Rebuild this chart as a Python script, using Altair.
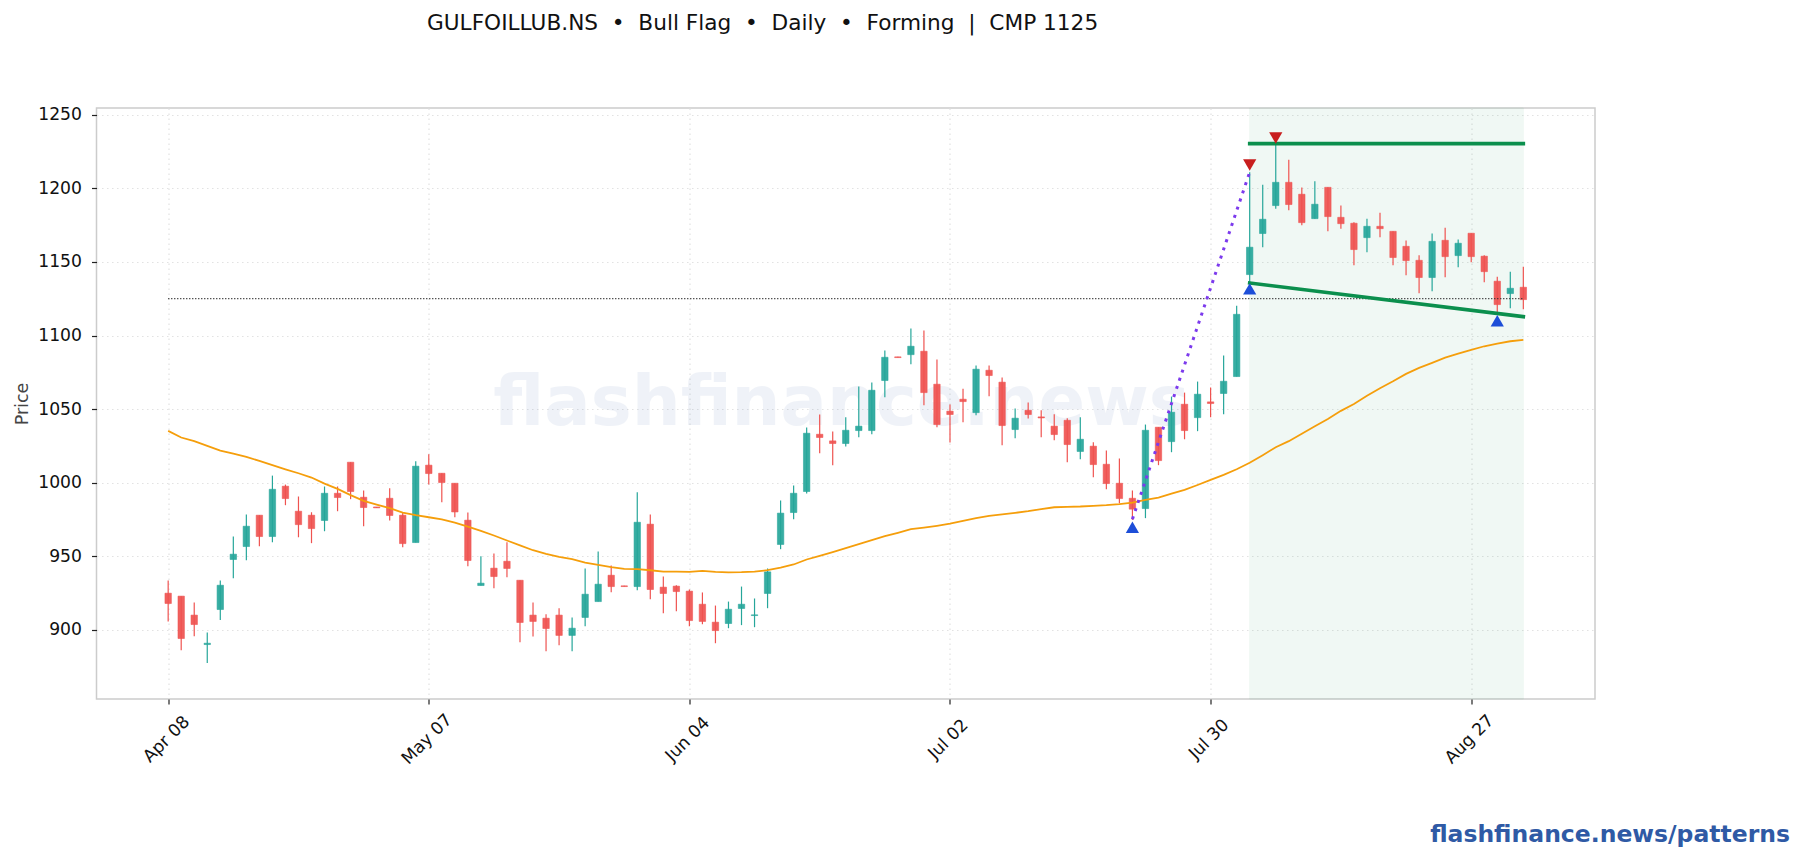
import json

import altair as alt
import pandas as pd

NB = "\u00a0"
TITLE = f"GULFOILLUB.NS{NB}{NB}•{NB}{NB}Bull Flag{NB}{NB}•{NB}{NB}Daily{NB}{NB}•{NB}{NB}Forming{NB}{NB}|{NB}{NB}CMP 1125"
CMP = 1125
FONT = "DejaVu Sans"

UP = "#26a69a"
DOWN = "#ef5350"
GREEN = "#0b8f4d"
ORANGE = "#f59e0b"
PURPLE = "#7c3aed"
BLUE = "#1d4ed8"
RED = "#c81e1e"

tick_positions = [0, 20, 40, 60, 80, 100]
tick_labels = ["Apr 08", "May 07", "Jun 04", "Jul 02", "Jul 30", "Aug 27"]
price_ticks = [900, 950, 1000, 1050, 1100, 1150, 1200, 1250]

opens = [
    924.9, 922.9, 910.0, 890.0, 913.8, 947.8, 956.6, 977.9, 963.4, 997.6,
    980.6, 977.9, 974.3, 992.8, 1013.9, 990.1, 983.5, 989.4, 977.9, 959.3,
    1011.9, 1006.4, 999.6, 974.5, 930.1, 941.9, 946.6, 933.7, 910.0, 907.9,
    910.0, 896.2, 908.4, 919.2, 937.1, 929.9, 929.4, 971.8, 929.0, 929.7,
    926.3, 917.4, 905.2, 904.3, 914.5, 909.7, 924.7, 958.0, 979.7, 994.0,
    1032.9, 1028.4, 1026.6, 1035.4, 1035.4, 1069.4, 1085.5, 1087.0, 1089.3, 1066.9,
    1048.6, 1056.7, 1047.6, 1076.4, 1068.3, 1036.1, 1049.2, 1044.7, 1038.4, 1042.4,
    1021.2, 1024.8, 1012.5, 999.6, 989.4, 982.4, 1037.7, 1027.9, 1053.3, 1044.2,
    1054.9, 1060.6, 1072.1, 1141.4, 1169.3, 1188.3, 1204.1, 1196.0, 1179.4, 1200.7,
    1180.3, 1176.3, 1166.5, 1174.2, 1170.8, 1160.6, 1151.1, 1139.4, 1164.7, 1154.3,
    1169.5, 1153.9, 1136.9, 1128.5, 1132.8,
]
highs = [
    933.5, 922.9, 918.6, 898.2, 933.5, 963.4, 978.3, 977.9, 1004.8, 998.7,
    990.6, 979.9, 997.4, 997.4, 1013.9, 994.6, 983.5, 996.2, 979.9, 1014.6,
    1019.3, 1006.4, 999.6, 979.7, 950.0, 951.8, 959.5, 933.7, 918.6, 910.6,
    914.7, 908.4, 941.7, 953.2, 943.7, 929.9, 993.5, 978.4, 936.2, 930.3,
    927.4, 925.4, 916.5, 919.2, 929.4, 921.3, 941.7, 987.9, 998.1, 1037.5,
    1046.3, 1034.7, 1044.5, 1065.3, 1068.0, 1089.8, 1085.5, 1104.7, 1103.4, 1083.7,
    1053.1, 1063.9, 1079.6, 1079.6, 1071.4, 1050.4, 1054.4, 1049.2, 1046.5, 1043.8,
    1044.5, 1027.5, 1021.8, 1016.4, 994.7, 1039.5, 1037.7, 1058.5, 1061.2, 1068.7,
    1064.6, 1086.4, 1120.3, 1211.0, 1202.5, 1230.6, 1219.5, 1200.5, 1204.8, 1200.7,
    1188.3, 1176.9, 1179.4, 1183.5, 1170.8, 1164.5, 1154.5, 1169.3, 1173.3, 1165.2,
    1169.5, 1154.5, 1140.0, 1143.4, 1146.8,
]
lows = [
    905.7, 886.2, 895.7, 877.4, 906.6, 935.1, 947.3, 956.8, 959.5, 984.7,
    962.9, 958.9, 967.0, 980.6, 988.8, 970.4, 982.9, 974.3, 956.2, 959.3,
    998.7, 986.7, 976.5, 943.2, 930.1, 928.3, 935.8, 891.6, 895.5, 885.5,
    889.6, 885.5, 902.5, 919.2, 925.6, 929.4, 926.9, 920.8, 911.3, 912.7,
    902.5, 903.8, 890.9, 901.1, 903.2, 901.8, 914.7, 954.8, 975.2, 992.6,
    1020.0, 1011.9, 1024.5, 1030.9, 1032.9, 1058.1, 1085.0, 1080.5, 1052.6, 1037.7,
    1027.3, 1041.1, 1045.8, 1058.7, 1025.5, 1030.2, 1043.6, 1030.9, 1028.9, 1013.9,
    1015.9, 1003.7, 995.6, 986.1, 974.7, 975.9, 1011.9, 1020.7, 1029.5, 1035.0,
    1044.5, 1046.5, 1072.1, 1136.0, 1160.0, 1186.2, 1185.1, 1174.9, 1179.4, 1170.8,
    1172.6, 1147.7, 1156.6, 1166.8, 1147.7, 1140.9, 1128.7, 1130.1, 1139.6, 1146.4,
    1149.8, 1136.2, 1115.1, 1118.5, 1117.8,
]
closes = [
    917.9, 894.1, 903.6, 890.9, 930.3, 951.4, 970.4, 963.4, 995.5, 989.2,
    971.5, 968.8, 992.8, 989.9, 994.0, 983.1, 982.9, 977.7, 958.6, 1011.2,
    1006.2, 1000.1, 980.1, 947.1, 931.7, 936.2, 941.7, 905.0, 905.7, 900.9,
    896.2, 901.1, 924.2, 931.0, 929.4, 929.4, 973.1, 927.4, 924.7, 926.0,
    906.3, 905.7, 899.5, 914.0, 917.4, 910.2, 939.4, 979.3, 992.8, 1033.6,
    1030.7, 1026.6, 1035.6, 1038.4, 1062.8, 1085.2, 1085.0, 1092.7, 1061.2, 1039.5,
    1046.3, 1055.1, 1077.1, 1072.8, 1038.8, 1043.8, 1046.3, 1044.0, 1032.7, 1025.9,
    1029.5, 1012.3, 999.4, 989.2, 982.0, 1035.6, 1015.0, 1047.9, 1035.4, 1060.1,
    1053.8, 1068.9, 1114.4, 1160.0, 1179.0, 1204.1, 1189.0, 1176.7, 1189.2, 1180.8,
    1176.0, 1158.4, 1174.2, 1172.6, 1153.0, 1150.9, 1139.4, 1164.0, 1153.6, 1162.7,
    1153.6, 1143.4, 1121.0, 1132.1, 1124.4,
]
moving_avg = [
    1035.2, 1030.7, 1028.2, 1025.0, 1021.8, 1019.8, 1017.5, 1014.8, 1011.9, 1009.1,
    1006.4, 1003.5, 999.4, 995.8, 991.5, 987.6, 985.1, 982.7, 979.7, 977.9,
    976.5, 975.0, 972.9, 970.2, 967.3, 964.1, 960.7, 957.4, 954.1, 951.6,
    949.6, 948.0, 945.7, 944.2, 942.6, 941.4, 941.2, 940.5, 939.6, 939.6,
    939.4, 940.1, 939.4, 939.0, 939.2, 939.6, 940.5, 942.3, 944.4, 947.8,
    950.3, 952.8, 955.5, 958.2, 960.9, 963.6, 965.9, 968.4, 969.5, 970.7,
    972.1, 974.0, 975.9, 977.4, 978.4, 979.5, 980.6, 982.0, 983.3, 983.6,
    983.8, 984.2, 984.7, 985.4, 986.5, 988.3, 989.9, 992.6, 995.1, 998.4,
    1001.9, 1005.3, 1009.1, 1013.5, 1018.7, 1024.1, 1028.2, 1033.2, 1038.4, 1043.3,
    1048.8, 1053.5, 1059.0, 1064.2, 1068.9, 1073.9, 1078.0, 1081.4, 1085.0, 1087.7,
    1090.2, 1092.7, 1094.5, 1096.1, 1097.0,
]

zone_start, zone_end = 83, 104
upper_line_x, upper_line_y = [83, 104], [1230.4, 1230.4]
lower_line_x, lower_line_y = [83, 104], [1135.7, 1112.8]
pole_x, pole_y = [74, 83], [975.2, 1211.0]
cmp_x, cmp_y = [0, 104], [CMP, CMP]
swing_low_x, swing_low_y = [74, 83, 102], [969.7, 1131.7, 1110.1]
swing_high_x, swing_high_y = [83, 85], [1215.9, 1234.2]

x_scale = alt.Scale(domain=[-5.5, 109.5], nice=False, zero=False, padding=0)
y_scale = alt.Scale(domain=[853, 1254.6], nice=False, zero=False)


def line_layer(xs, ys, **mark_kwargs) -> alt.Chart:
    df = pd.DataFrame({"x": xs, "y": ys})
    return (
        alt.Chart(df)
        .mark_line(**mark_kwargs)
        .encode(
            x=alt.X("x:Q", scale=x_scale),
            y=alt.Y("y:Q", scale=y_scale),
        )
    )


def marker_layer(xs, ys, shape, color) -> alt.Chart:
    df = pd.DataFrame({"x": xs, "y": ys})
    return (
        alt.Chart(df)
        .mark_point(shape=shape, filled=True, size=175, color=color, opacity=1)
        .encode(
            x=alt.X("x:Q", scale=x_scale),
            y=alt.Y("y:Q", scale=y_scale),
        )
    )


def create_chart() -> alt.LayerChart:
    df = pd.DataFrame(
        {
            "i": range(len(closes)),
            "open": opens,
            "high": highs,
            "low": lows,
            "close": closes,
        }
    )
    df["dir"] = ["up" if c >= o else "down" for o, c in zip(opens, closes)]
    color = alt.Color(
        "dir:N",
        scale=alt.Scale(domain=["up", "down"], range=[UP, DOWN]),
        legend=None,
    )

    label_lookup = json.dumps(dict(zip(map(str, tick_positions), tick_labels)))
    x_axis = alt.Axis(
        values=tick_positions,
        labelExpr=f"{label_lookup}[datum.value]",
        labelAngle=-45,
        labelAlign="center",
        labelBaseline="middle",
        labelPadding=35,
        labelOffset=-2,
        labelOverlap=False,
        title=None,
    )
    y_axis = alt.Axis(
        values=price_ticks,
        format="d",
        title="Price",
        titlePadding=6,
        labelPadding=10,
    )

    zone = (
        alt.Chart(pd.DataFrame({"start": [zone_start], "end": [zone_end]}))
        .mark_rect(color=GREEN, opacity=0.055, stroke=GREEN, strokeWidth=1)
        .encode(
            x=alt.X("start:Q", scale=x_scale, axis=x_axis),
            x2="end:Q",
        )
    )

    watermark = (
        alt.Chart(pd.DataFrame({"label": ["flashfinance.news"]}))
        .mark_text(
            font=FONT,
            fontWeight="bold",
            fontSize=68.8,
            color="#2f5aa5",
            opacity=0.07,
            align="center",
            baseline="middle",
        )
        .encode(x=alt.value(745), y=alt.value(296), text="label:N")
    )

    wicks = (
        alt.Chart(df)
        .mark_rule(strokeWidth=1.2)
        .encode(
            x=alt.X("i:Q", scale=x_scale),
            y=alt.Y("low:Q", scale=y_scale, axis=y_axis),
            y2="high:Q",
            color=color,
        )
    )
    bodies = (
        alt.Chart(df)
        .mark_bar(size=6.4, fillOpacity=0.92, strokeWidth=0.7, strokeOpacity=0.8)
        .encode(
            x=alt.X("i:Q", scale=x_scale),
            y=alt.Y("open:Q", scale=y_scale),
            y2="close:Q",
            color=color,
            stroke=alt.Stroke(
                "dir:N",
                scale=alt.Scale(domain=["up", "down"], range=[UP, DOWN]),
                legend=None,
            ),
        )
    )

    footer = (
        alt.Chart(pd.DataFrame({"label": ["flashfinance.news/patterns"]}))
        .mark_text(
            font=FONT,
            fontWeight="bold",
            fontSize=23.5,
            color="#2f5aa5",
            align="right",
            baseline="middle",
        )
        .encode(x=alt.value(1693.5), y=alt.value(727), text="label:N")
    )

    chart = alt.layer(
        zone,
        watermark,
        wicks,
        bodies,
        line_layer(list(range(len(moving_avg))), moving_avg, color=ORANGE, strokeWidth=1.8),
        line_layer(cmp_x, cmp_y, color="#333333", strokeWidth=1.2, strokeDash=[1.2, 1.8]),
        line_layer(pole_x, pole_y, color=PURPLE, strokeWidth=3, strokeDash=[3, 5.6]),
        line_layer(upper_line_x, upper_line_y, color=GREEN, strokeWidth=3.6, strokeCap="square"),
        line_layer(lower_line_x, lower_line_y, color=GREEN, strokeWidth=3.6, strokeCap="square"),
        marker_layer(swing_low_x, swing_low_y, "triangle-up", BLUE),
        marker_layer(swing_high_x, swing_high_y, "triangle-down", RED),
        footer,
    )

    return (
        chart.properties(
            width=1498.5,
            height=591,
            padding={"left": 88.5, "top": 100, "right": 197, "bottom": 152},
            autosize=alt.AutoSizeParams(type="none"),
            title=alt.TitleParams(
                TITLE,
                anchor="start",
                frame="group",
                dx=330.5,
                offset=71,
                fontSize=21.65,
                fontWeight="normal",
                font=FONT,
                color="#111111",
            ),
        )
        .configure_view(stroke="#cccccc", strokeWidth=1.5)
        .configure_axis(
            domain=False,
            grid=True,
            gridColor="#e2e2e2",
            gridDash=[1.5, 3.5],
            gridWidth=1.2,
            tickColor="#222222",
            tickSize=5,
            tickWidth=1.2,
            labelFont=FONT,
            labelFontSize=17.2,
            labelColor="#111111",
            titleFont=FONT,
            titleFontSize=17.4,
            titleFontWeight="normal",
            titleColor="#444444",
        )
    )


def main() -> None:
    create_chart().save("out.html", embed_options={"renderer": "svg", "actions": False})


if __name__ == "__main__":
    main()
